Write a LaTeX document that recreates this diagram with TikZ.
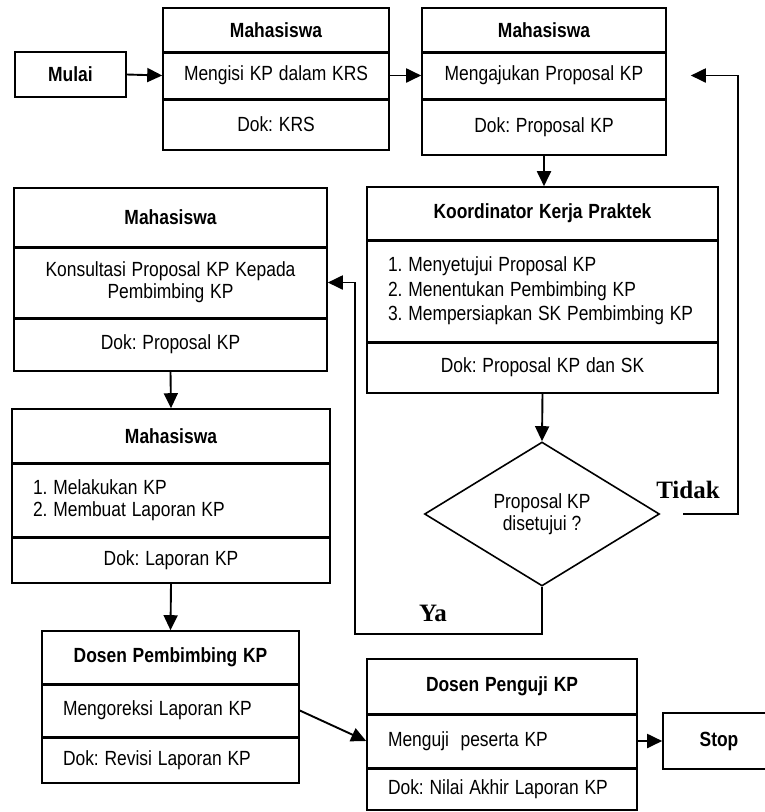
\documentclass[tikz,border=0pt]{standalone}
\usepackage{graphicx}
\usepackage{fontspec}
\setmainfont{Liberation Sans}
\newfontfamily\lblfont{Liberation Serif}
\usetikzlibrary{shapes.geometric,arrows.meta}
\newcommand\fs{\fontsize{20.5}{22}\selectfont}
\newcommand\nar[1]{\scalebox{0.85}[1]{#1}}
\frenchspacing
\begin{document}
\begin{tikzpicture}[x=1pt,y=-1pt,
  cell/.style={draw, line width=1.6pt, inner xsep=21pt, inner ysep=0pt, font=\fs, align=center},
  lcell/.style={cell, align=left},
  hcell/.style={cell, font=\fs\bfseries},
  divline/.style={line width=2.6pt},
  arr/.style={line width=1.9pt, -{Triangle[length=15pt,width=14pt]}},
  lbl/.style={font=\lblfont\fontsize{25}{27}\selectfont\bfseries, inner sep=0pt}
]
\useasboundingbox (0,0) rectangle (765,812);
\fill[white] (0,0) rectangle (765,812);

% Mulai
\node[hcell, minimum width=111pt, text width=69pt, minimum height=45pt] (mulai) at (70.5,74.5) {\nar{Mulai}};

% Mahasiswa box 1
\node[hcell, minimum width=226pt, text width=184pt, minimum height=44pt] (m1h) at (276,30) {\nar{Mahasiswa}};
\node[cell, minimum width=226pt, text width=184pt, minimum height=47pt] (m1b) at (276,75.5) {\nar{Mengisi KP dalam KRS}};
\node[cell, minimum width=226pt, text width=184pt, minimum height=51pt] (m1d) at (276,124.5) {\nar{Dok: KRS}};

% Mahasiswa box 2
\node[hcell, minimum width=244pt, text width=202pt, minimum height=44pt] (m2h) at (544,30) {\nar{Mahasiswa}};
\node[cell, minimum width=244pt, text width=202pt, minimum height=47pt] (m2b) at (544,75.5) {\nar{Mengajukan Proposal KP}};
\node[cell, minimum width=244pt, text width=202pt, minimum height=56pt] (m2d) at (544,127) {\nar{Dok: Proposal KP}};

% Koordinator
\node[hcell, minimum width=351pt, text width=309pt, minimum height=53pt] (koh) at (542.5,213.5) {\nar{Koordinator Kerja Praktek}};
\node[lcell, minimum width=351pt, text width=309pt, minimum height=102pt] (kob) at (542.5,291) {\nar{1. Menyetujui Proposal KP}\\[2.5pt]\nar{2. Menentukan Pembimbing KP}\\[2.5pt]\nar{3. Mempersiapkan SK Pembimbing KP}};
\node[cell, minimum width=351pt, text width=309pt, minimum height=51pt] (kod) at (542.5,367.5) {\nar{Dok: Proposal KP dan SK}};

% Konsultasi
\node[hcell, minimum width=313pt, text width=271pt, minimum height=59pt] (ksh) at (170.5,217.5) {\nar{Mahasiswa}};
\node[cell, minimum width=313pt, text width=271pt, minimum height=71pt] (ksb) at (170.5,282.5) {\nar{Konsultasi Proposal KP Kepada}\\\nar{Pembimbing KP}};
\node[cell, minimum width=313pt, text width=271pt, minimum height=53pt] (ksd) at (170.5,344.5) {\nar{Dok: Proposal KP}};

% Laporan
\node[hcell, minimum width=318pt, text width=276pt, minimum height=54pt] (lah) at (171,436) {\nar{Mahasiswa}};
\node[lcell, minimum width=318pt, text width=276pt, minimum height=74pt] (lab) at (171,500) {\nar{1. Melakukan KP}\\\nar{2. Membuat Laporan KP}};
\node[cell, minimum width=318pt, text width=276pt, minimum height=46pt] (lad) at (171,560) {\nar{Dok: Laporan KP}};

% Dosen Pembimbing
\node[hcell, minimum width=257pt, text width=215pt, minimum height=53pt] (dph) at (170.5,657.5) {\nar{Dosen Pembimbing KP}};
\node[lcell, minimum width=257pt, text width=215pt, minimum height=53pt] (dpb) at (170.5,710.5) {\nar{Mengoreksi Laporan KP}};
\node[lcell, minimum width=257pt, text width=215pt, minimum height=46pt] (dpd) at (170.5,760) {\nar{Dok: Revisi Laporan KP}};

% Dosen Penguji
\node[hcell, minimum width=270pt, text width=228pt, minimum height=55pt] (dqh) at (502,686.5) {\nar{Dosen Penguji KP}};
\node[lcell, minimum width=270pt, text width=228pt, minimum height=54pt] (dqb) at (502,741) {\nar{Menguji\ \ peserta KP}};
\node[lcell, minimum width=270pt, text width=228pt, minimum height=42pt] (dqd) at (502,789) {\nar{Dok: Nilai Akhir Laporan KP}};

% Stop
\node[hcell, minimum width=112pt, text width=70pt, minimum height=56pt] (stop) at (719,741) {\nar{Stop}};

% Decision
\node[draw, line width=1.6pt, diamond, minimum width=235pt, minimum height=144pt, inner sep=0pt, font=\fs, align=center] (dia) at (542,514) {\nar{Proposal KP}\\\nar{disetujui ?}};

% thicker dividers
\foreach \n in {m1h,m1b,m2h,m2b,koh,kob,ksh,ksb,lah,lab,dph,dpb,dqh,dqb}
  \draw[divline] (\n.south west) -- (\n.south east);

% connectors
\draw[arr] (mulai.east) -- (m1b.west);
\draw[arr] (m1b.east) -- (m2b.west);
\draw[arr] (m2d.south) -- (m2d.south |- koh.north);
\draw[arr] (kod.south) -- (dia.north);
\draw[arr] (ksd.south) -- (lah.north);
\draw[arr] (lad.south) -- (dph.north);
\draw[arr] (dpb.east) -- (dqb.west);
\draw[arr] (dqb.east) -- (stop.west);

\coordinate (tcorner) at (738,514);
\draw[arr, shorten <=23pt, shorten >=24pt] (dia.east) -- (tcorner) |- (m2b.east);
\coordinate (ycorner) at (355,634);
\draw[arr] (dia.south) |- (ycorner) |- (ksb.east);

\node[lbl] (tidak) at (688,490) {Tidak};
\node[lbl] (ya) at (433,613) {Ya};
\end{tikzpicture}
\end{document}
